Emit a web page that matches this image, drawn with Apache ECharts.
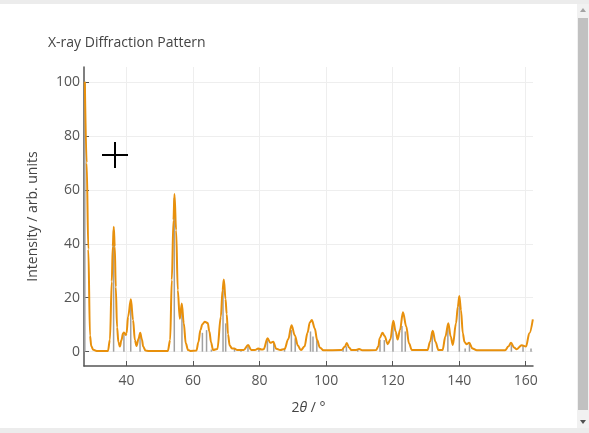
<!DOCTYPE html>
<html>
<head>
<meta charset='utf-8' />
<title>X-ray Diffraction Pattern</title>
<style>
html, body {
  margin: 0;
  padding: 0;
  width: 589px;
  height: 433px;
  overflow: hidden;
  background: #fff;
}
.chart {
  position: absolute;
  left: 0;
  top: 0;
  width: 589px;
  height: 433px;
}
.band-top { position: absolute; left: 0; top: 0; width: 589px; height: 4px; background: #ececec; }
.band-bottom { position: absolute; left: 0; top: 428px; width: 589px; height: 5px; background: #ececec; }
.sb-track { position: absolute; left: 577px; top: 4px; width: 12px; height: 424px; background: #f1f1f1; }
.sb-thumb { position: absolute; left: 578px; top: 18px; width: 10px; height: 392px; background: #c1c1c1; }
.sb-up { position: absolute; left: 580px; top: 8px; width: 0; height: 0;
  border-left: 3px solid transparent; border-right: 3px solid transparent; border-bottom: 4px solid #a3a3a3; }
.sb-down { position: absolute; left: 580px; top: 420px; width: 0; height: 0;
  border-left: 3px solid transparent; border-right: 3px solid transparent; border-top: 4px solid #505050; }
</style>
</head>
<body>
<div class="chart" id="chart"></div>
<div class="band-top"></div>
<div class="band-bottom"></div>
<div class="sb-track"></div>
<div class="sb-thumb"></div>
<div class="sb-up"></div>
<div class="sb-down"></div>

<script src="https://cdn.jsdelivr.net/npm/echarts@6/dist/echarts.min.js"></script>
<script>
// calculated profile (2theta / intensity)
var profileX = [27.45, 28.0, 28.5, 29.0, 29.4, 30.0, 31.0, 34.4,
  35.0, 35.55, 35.85, 36.15, 36.45, 36.75, 37.15, 37.55, 38.0, 38.45, 38.95, 39.2, 39.8, 40.0, 40.45, 41.3, 41.95, 42.5, 43.0, 43.6, 44.1, 44.6, 45.0, 45.7, 46.5,
  52.4, 53.1, 53.6, 54.1, 54.4, 54.9, 55.4, 56.0, 56.6, 57.2, 57.8, 58.5, 59.2,
  61.0, 61.6, 62.2, 62.8, 63.5, 64.4, 64.9, 65.4, 66.0,
  67.3, 68.35, 68.85, 69.25, 69.75, 70.1, 70.5, 71.0, 71.7, 72.35, 73.3,
  75.2, 76.55, 77.5, 78.6, 79.6, 80.6, 81.2, 82.4, 83.2, 84.1, 85.0, 86.2, 87.5, 88.6, 89.6, 90.6, 91.5, 92.4, 93.5, 94.4, 95.1, 95.7, 96.6, 97.3, 98.1, 99.2,
  104.6, 105.6, 106.2, 106.9, 107.6, 108.8, 109.9, 110.9, 115.0,
  115.7, 116.1, 116.95, 117.6, 118.5, 119.3, 120.2, 120.9, 121.5, 122.2, 123.1, 124.1, 124.9, 125.8,
  130.5, 131.25, 132.05, 132.85, 133.8, 135.0, 135.85, 136.75, 137.45, 138.1, 139.05, 139.6, 140.05, 140.55, 141.1, 141.6, 142.2, 143.0, 144.0, 145.3,
  153.8, 154.8, 155.6, 156.5, 157.3, 158.8, 160.1, 161.1, 162.15];
var profileY = [100, 70, 38, 6, 2, 0.7, 0.3, 0.3,
  4.5, 26, 39, 46.3, 39, 24, 9, 3.5, 1.9, 4.3, 6.8, 7.1, 6.2, 6.9, 13, 19.4, 11.7, 4.3, 2.1, 4.8, 7.0, 4.6, 1.9, 0.4, 0.3,
  0.3, 4.3, 26.6, 48.8, 58.4, 45, 22.8, 12.2, 17.9, 10.5, 3.1, 0.6, 0.3,
  0.4, 3.5, 8.0, 10.2, 11.1, 10.6, 7.5, 3.5, 0.6,
  1.0, 13, 22.8, 26.8, 19.5, 14, 6.5, 2.3, 1.2, 1.2, 0.6,
  0.6, 2.5, 0.6, 0.6, 1.2, 0.8, 0.9, 5.0, 3.3, 3.7, 1.1, 0.6, 1.0, 4.6, 9.8, 6.0, 2.3, 0.6, 1.9, 7.0, 10.8, 11.7, 8.6, 4.3, 1.6, 0.5,
  0.6, 1.8, 3.2, 1.6, 0.6, 0.6, 1.0, 0.5, 0.6,
  1.9, 5.0, 7.0, 5.8, 2.8, 4.5, 11.5, 7.5, 4.5, 8.0, 14.6, 9.3, 3.1, 0.6,
  0.6, 3.7, 7.8, 3.7, 0.6, 0.6, 5.6, 10.5, 5.6, 2.5, 10.5, 16.7, 20.6, 15.4, 6.8, 3.6, 2.8, 3.3, 1.2, 0.5,
  0.5, 1.9, 3.3, 1.6, 0.9, 2.4, 1.9, 6.8, 12.0];

// reflection positions and intensities (grey sticks)
var stickPos = [27.45, 36.1, 39.2, 41.25, 44.05, 54.35, 56.65, 62.8, 64.05, 65.5, 69.0, 69.8, 72.45, 74.4, 76.5, 79.8, 82.35, 84.25, 87.5, 89.55, 90.7,
  95.3, 96.05, 97.2, 105.1, 106.1, 109.5, 116.2, 117.5, 120.1, 122.8, 123.8, 131.9, 136.6, 140.05, 141.8, 143.1, 155.7, 159.2, 161.6];
var stickInt = [100, 45, 6.5, 18.5, 6.5, 57, 17, 7, 8, 0.8, 24, 10.5, 1.2, 0.6, 2, 1, 4.2, 3.2, 0.9, 8, 5,
  7.5, 5.6, 4.2, 1, 2, 1, 4.3, 4.3, 10, 9.5, 7.5, 7.4, 9.5, 19, 1.2, 3.1, 2.5, 2.1, 1.2];

var xTicks = [40, 60, 80, 100, 120, 140, 160];
var yTicks = [0, 20, 40, 60, 80, 100];

var profile = [];
for (var i = 0; i < profileX.length; i++) {
  profile.push([profileX[i], profileY[i]]);
}
var sticks = [];
for (var j = 0; j < stickPos.length; j++) {
  sticks.push([stickPos[j], stickInt[j]]);
}

var myChart = echarts.init(document.getElementById('chart'));
var font = "'Open Sans', 'Noto Sans', sans-serif";

var option = {
  animation: false,
  textStyle: { fontFamily: font },
  title: {
    text: 'X-ray Diffraction Pattern',
    left: 43,
    top: 31,
    textStyle: { fontFamily: font, fontSize: 14, fontWeight: 'normal', color: '#444' }
  },
  grid: { left: 84, right: 56, top: 67, bottom: 67 },
  xAxis: {
    type: 'value',
    min: 27.2,
    max: 162.2,
    name: '{n|2}{i|θ}{n| / °}',
    nameLocation: 'middle',
    nameGap: 35,
    nameTextStyle: {
      rich: {
        n: { fontFamily: font, fontSize: 14, color: '#444' },
        i: { fontFamily: font, fontSize: 14, color: '#444', fontStyle: 'italic' }
      }
    },
    axisLine: { onZero: false, lineStyle: { color: '#555', width: 1.5 } },
    axisTick: { inside: true, length: 5, customValues: xTicks, lineStyle: { color: '#555' } },
    axisLabel: { customValues: xTicks, margin: 8, fontSize: 14, color: '#555', fontFamily: font },
    splitLine: { show: true, lineStyle: { color: '#eeeeee', width: 1 } }
  },
  yAxis: {
    type: 'value',
    min: -5.3,
    max: 105.5,
    name: 'Intensity / arb. units',
    nameLocation: 'middle',
    nameGap: 44,
    nameTextStyle: { fontFamily: font, fontSize: 14, color: '#444' },
    axisLine: { show: true, onZero: false, lineStyle: { color: '#555', width: 1.5 } },
    axisTick: { show: true, inside: true, length: 5, customValues: yTicks, lineStyle: { color: '#555' } },
    axisLabel: { customValues: yTicks, margin: 4, fontSize: 14, color: '#555', fontFamily: font },
    splitLine: { show: true, lineStyle: { color: '#eeeeee', width: 1 } }
  },
  graphic: [
    { type: 'line', shape: { x1: 102, y1: 155, x2: 128, y2: 155 }, style: { stroke: '#000', lineWidth: 2 }, z: 100 },
    { type: 'line', shape: { x1: 115, y1: 142, x2: 115, y2: 168 }, style: { stroke: '#000', lineWidth: 2 }, z: 100 }
  ],
  series: [
    {
      name: 'reflections',
      type: 'custom',
      clip: true,
      data: sticks,
      renderItem: function (params, api) {
        var top = api.coord([api.value(0), api.value(1)]);
        var base = api.coord([api.value(0), 0]);
        return {
          type: 'line',
          shape: { x1: top[0], y1: top[1], x2: base[0], y2: base[1] },
          style: { stroke: '#a0a0a0', lineWidth: 1.5 }
        };
      },
      z: 1
    },
    {
      name: 'profile',
      type: 'line',
      data: profile,
      showSymbol: false,
      smooth: 0.35,
      smoothMonotone: 'x',
      clip: true,
      lineStyle: { color: '#e8900c', width: 2 },
      z: 2
    }
  ]
};
myChart.setOption(option);
</script>
</body>
</html>
